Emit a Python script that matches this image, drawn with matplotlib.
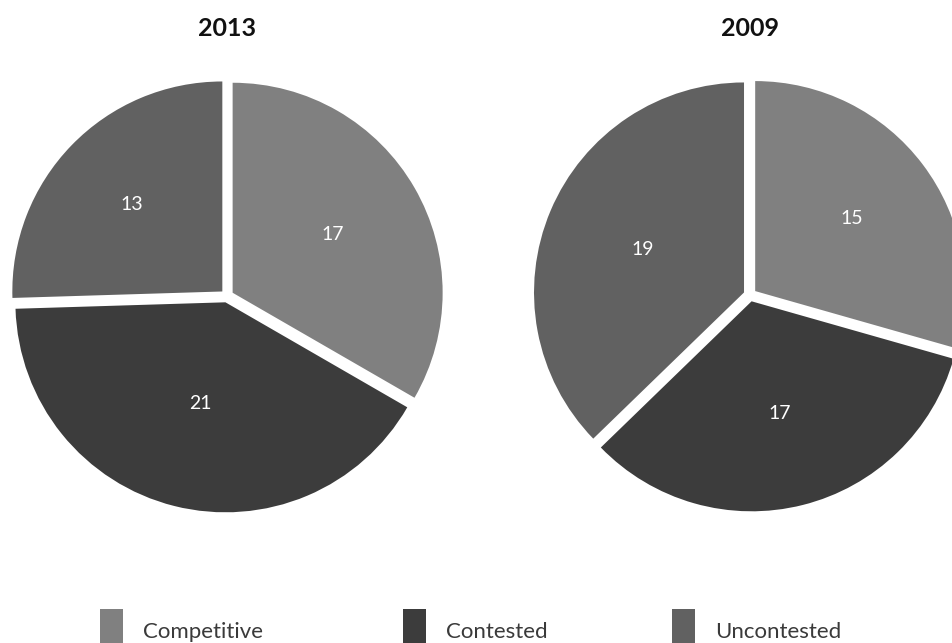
import matplotlib
matplotlib.use("Agg")
import matplotlib.pyplot as plt
from matplotlib.patches import Rectangle
import numpy as np

plt.rcParams["font.family"] = ["Lato", "DejaVu Sans"]

# races by type, per election year
categories = ["Competitive", "Contested", "Uncontested"]
years = ["2013", "2009"]
counts_2013 = [17, 21, 13]
counts_2009 = [15, 17, 19]
colors = ["#808080", "#3c3c3c", "#616161"]

fig = plt.figure(figsize=(9.53, 6.43), dpi=100)
ax = fig.add_axes([0, 0, 1, 1])

# work in pixel-like units, y going up
W, H = 953, 643
R = 210
centers = [(227, H - 296), (750, H - 295)]

for year, counts, (cx, cy) in zip(years, [counts_2013, counts_2009], centers):
    total = sum(counts)
    # explode is in data units here, so ~6.5 px shift per wedge
    wedges, _, autotexts = ax.pie(
        counts, colors=colors, startangle=90, counterclock=False,
        center=(cx, cy), radius=R, explode=[6.5] * len(counts),
        autopct=lambda p, t=total: "%d" % round(p * t / 100.0),
        textprops=dict(color="white", fontsize=14),
        wedgeprops=dict(linewidth=0))
    # put each number on the centroid of its wedge
    for w, t in zip(wedges, autotexts):
        half = np.deg2rad(w.theta2 - w.theta1) / 2
        mid = np.deg2rad((w.theta1 + w.theta2) / 2)
        d = 2 * w.r * np.sin(half) / (3 * half)
        t.set_position((w.center[0] + d * np.cos(mid),
                        w.center[1] + d * np.sin(mid)))
    ax.text(cx, H - 29, year, ha="center", va="center",
            fontsize=18, fontweight="bold", color="#111111")

# legend row along the bottom edge
legend_x = [100, 403, 672]
for x, name, c in zip(legend_x, categories, colors):
    ax.add_patch(Rectangle((x, -10), 23, 44, facecolor=c, edgecolor="none"))
    ax.text(x + 43, H - 632, name, ha="left", va="center",
            fontsize=16, color="#3a3a3a")

ax.set_xlim(0, W)
ax.set_ylim(0, H)
ax.set_aspect("equal")
ax.axis("off")

fig.savefig("out.png", dpi=100)
